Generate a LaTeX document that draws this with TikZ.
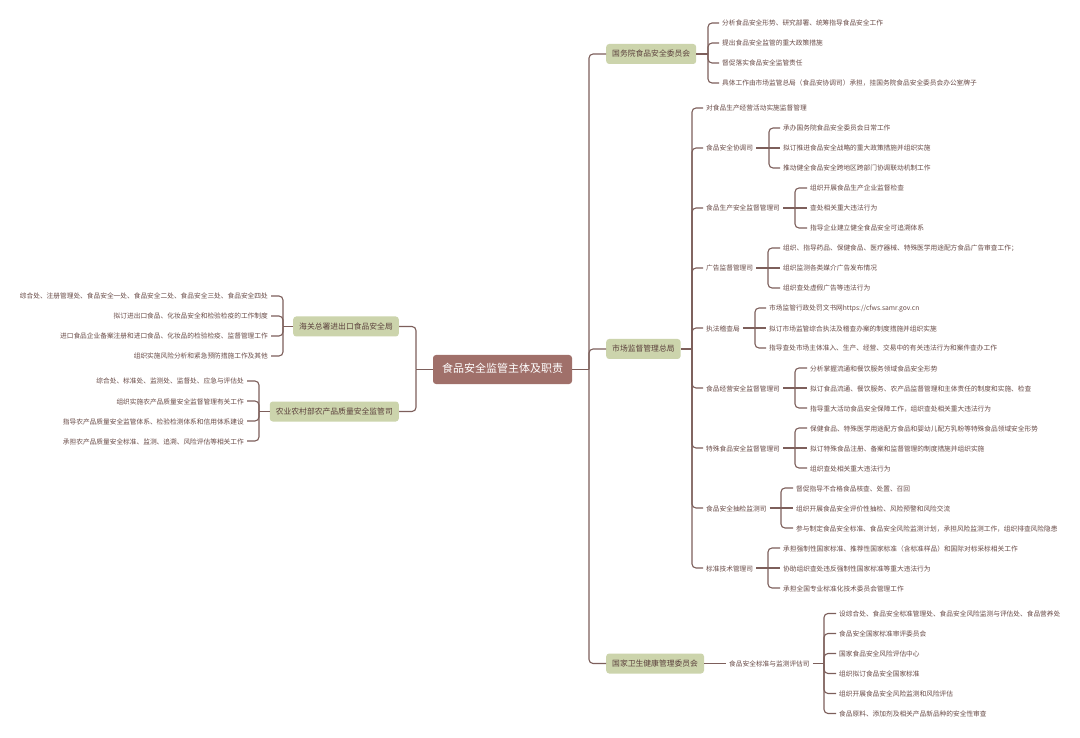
\documentclass[tikz,border=0pt]{standalone}
\usepackage{fontspec}
\setmainfont{Noto Sans CJK SC}
\definecolor{rootfill}{HTML}{A0706A}
\definecolor{boxfill}{HTML}{CCD4AC}
\definecolor{linkcol}{HTML}{7D5F5B}
\definecolor{boxtext}{HTML}{5B403C}
\definecolor{leaftext}{HTML}{684A46}
\tikzset{
	rootbox/.style={fill=rootfill, text=white, rounded corners=3pt, inner xsep=9pt, minimum height=29pt, text height=0.8em, text depth=0.2em, font=\fontsize{11}{13}\selectfont},
	mainbox/.style={fill=boxfill, text=boxtext, rounded corners=3pt, inner xsep=6pt, minimum height=20pt, text height=0.8em, text depth=0.2em, font=\fontsize{7.8}{9}\selectfont},
	leaf/.style={anchor=west, text=leaftext, inner xsep=3pt, inner ysep=1pt, text height=0.8em, text depth=0.2em, font=\fontsize{6.7}{8}\selectfont},
	leafl/.style={leaf, anchor=east},
	link/.style={draw=linkcol, line width=1.1pt, rounded corners=4pt},
}

\begin{document}
\begin{tikzpicture}[x=1pt, y=-1pt]
		%%%%% START %%%%%
		\useasboundingbox (0, 0) rectangle (1080, 738);
		\fill[white] (0, 0) rectangle (1080, 738);
		
		\node[rootbox] (root) at (502.5, 369.5) {食品安全监管主体及职责};
		
		\node[mainbox, anchor=west] (gwy) at (606, 54) {国务院食品安全委员会};
		\node[mainbox, anchor=west] (scj) at (606, 349) {市场监督管理总局};
		\node[mainbox, anchor=west] (wjw) at (606, 663.5) {国家卫生健康管理委员会};
		\node[mainbox, anchor=east] (hg) at (399, 326.5) {海关总署进出口食品安全局};
		\node[mainbox, anchor=east] (ny) at (399, 411.5) {农业农村部农产品质量安全监管司};
		
		\coordinate (rootR) at (589, 369.5);
		\coordinate (rootL) at (416, 369.5);
		\draw[link] (root.east) -- (rootR);
		\draw[link] (rootR) |- (gwy.west);
		\draw[link] (rootR) |- (scj.west);
		\draw[link] (rootR) |- (wjw.west);
		\draw[link] (root.west) -- (rootL);
		\draw[link] (rootL) |- (hg.east);
		\draw[link] (rootL) |- (ny.east);
		
		% guowuyuan
		\node[leaf] (gwy1) at (719, 23) {分析食品安全形势、研究部署、统筹指导食品安全工作};
		\node[leaf] (gwy2) at (719, 43) {提出食品安全监管的重大政策措施};
		\node[leaf] (gwy3) at (719, 63) {督促落实食品安全监管责任};
		\node[leaf] (gwy4) at (719, 83) {具体工作由市场监管总局（食品安协调司）承担，挂国务院食品安全委员会办公室牌子};
		\coordinate (gwyS) at (708, 54);
		\draw[link] (gwy.east) -- (gwyS);
		\draw[link] (gwyS) |- (gwy1.west);
		\draw[link] (gwyS) |- (gwy2.west);
		\draw[link] (gwyS) |- (gwy3.west);
		\draw[link] (gwyS) |- (gwy4.west);
		
		% shichang jianguan
		\node[leaf] (scj1) at (703, 108) {对食品生产经营活动实施监督管理};
		\node[leaf] (xt) at (703, 148) {食品安全协调司};
		\node[leaf] (sc) at (703, 208) {食品生产安全监督管理司};
		\node[leaf] (gg) at (703, 268) {广告监督管理司};
		\node[leaf] (zf) at (703, 328) {执法稽查局};
		\node[leaf] (jy) at (703, 388) {食品经营安全监督管理司};
		\node[leaf] (ts) at (703, 448) {特殊食品安全监督管理司};
		\node[leaf] (cj) at (703, 508) {食品安全抽检监测司};
		\node[leaf] (bz) at (703, 568) {标准技术管理司};
		\coordinate (scjS) at (692, 349);
		\draw[link] (scj.east) -- (scjS);
		\draw[link] (scjS) |- (scj1.west);
		\draw[link] (scjS) |- (xt.west);
		\draw[link] (scjS) |- (sc.west);
		\draw[link] (scjS) |- (gg.west);
		\draw[link] (scjS) |- (zf.west);
		\draw[link] (scjS) |- (jy.west);
		\draw[link] (scjS) |- (ts.west);
		\draw[link] (scjS) |- (cj.west);
		\draw[link] (scjS) |- (bz.west);
		
		\node[leaf] (xt1) at (780, 128) {承办国务院食品安全委员会日常工作};
		\node[leaf] (xt2) at (780, 148) {拟订推进食品安全战略的重大政策措施并组织实施};
		\node[leaf] (xt3) at (780, 168) {推动健全食品安全跨地区跨部门协调联动机制工作};
		\coordinate (xtS) at (769, 148);
		\draw[link] (xt.east) -- (xt2.west);
		\draw[link] (xtS) |- (xt1.west);
		\draw[link] (xtS) |- (xt3.west);
		
		\node[leaf] (sc1) at (807, 188) {组织开展食品生产企业监督检查};
		\node[leaf] (sc2) at (807, 208) {查处相关重大违法行为};
		\node[leaf] (sc3) at (807, 228) {指导企业建立健全食品安全可追溯体系};
		\coordinate (scS) at (795, 208);
		\draw[link] (sc.east) -- (sc2.west);
		\draw[link] (scS) |- (sc1.west);
		\draw[link] (scS) |- (sc3.west);
		
		\node[leaf] (gg1) at (780, 248) {组织、指导药品、保健食品、医疗器械、特殊医学用途配方食品广告审查工作；};
		\node[leaf] (gg2) at (780, 268) {组织监测各类媒介广告发布情况};
		\node[leaf] (gg3) at (780, 288) {组织查处虚假广告等违法行为};
		\coordinate (ggS) at (768, 268);
		\draw[link] (gg.east) -- (gg2.west);
		\draw[link] (ggS) |- (gg1.west);
		\draw[link] (ggS) |- (gg3.west);
		
		\node[leaf] (zf1) at (766, 308) {市场监管行政处罚文书网https://cfws.samr.gov.cn};
		\node[leaf] (zf2) at (766, 328) {拟订市场监管综合执法及稽查办案的制度措施并组织实施};
		\node[leaf] (zf3) at (766, 348) {指导查处市场主体准入、生产、经营、交易中的有关违法行为和案件查办工作};
		\coordinate (zfS) at (755, 328);
		\draw[link] (zf.east) -- (zf2.west);
		\draw[link] (zfS) |- (zf1.west);
		\draw[link] (zfS) |- (zf3.west);
		
		\node[leaf] (jy1) at (807, 368) {分析掌握流通和餐饮服务领域食品安全形势};
		\node[leaf] (jy2) at (807, 388) {拟订食品流通、餐饮服务、农产品监督管理和主体责任的制度和实施、检查};
		\node[leaf] (jy3) at (807, 408) {指导重大活动食品安全保障工作，组织查处相关重大违法行为};
		\coordinate (jyS) at (795, 388);
		\draw[link] (jy.east) -- (jy2.west);
		\draw[link] (jyS) |- (jy1.west);
		\draw[link] (jyS) |- (jy3.west);
		
		\node[leaf] (ts1) at (807, 428) {保健食品、特殊医学用途配方食品和婴幼儿配方乳粉等特殊食品领域安全形势};
		\node[leaf] (ts2) at (807, 448) {拟订特殊食品注册、备案和监督管理的制度措施并组织实施};
		\node[leaf] (ts3) at (807, 468) {组织查处相关重大违法行为};
		\coordinate (tsS) at (795, 448);
		\draw[link] (ts.east) -- (ts2.west);
		\draw[link] (tsS) |- (ts1.west);
		\draw[link] (tsS) |- (ts3.west);
		
		\node[leaf] (cj1) at (793, 488) {督促指导不合格食品核查、处置、召回};
		\node[leaf] (cj2) at (793, 508) {组织开展食品安全评价性抽检、风险预警和风险交流};
		\node[leaf] (cj3) at (793, 528) {参与制定食品安全标准、食品安全风险监测计划，承担风险监测工作，组织排查风险隐患};
		\coordinate (cjS) at (781, 508);
		\draw[link] (cj.east) -- (cj2.west);
		\draw[link] (cjS) |- (cj1.west);
		\draw[link] (cjS) |- (cj3.west);
		
		\node[leaf] (bz1) at (780, 548) {承担强制性国家标准、推荐性国家标准（含标准样品）和国际对标采标相关工作};
		\node[leaf] (bz2) at (780, 568) {协助组织查处违反强制性国家标准等重大违法行为};
		\node[leaf] (bz3) at (780, 588) {承担全国专业标准化技术委员会管理工作};
		\coordinate (bzS) at (768, 568);
		\draw[link] (bz.east) -- (bz2.west);
		\draw[link] (bzS) |- (bz1.west);
		\draw[link] (bzS) |- (bz3.west);
		
		% weijianwei
		\node[leaf] (jc) at (726, 663.5) {食品安全标准与监测评估司};
		\draw[link] (wjw.east) -- (jc.west);
		\node[leaf] (jc1) at (836, 613.5) {设综合处、食品安全标准管理处、食品安全风险监测与评估处、食品营养处};
		\node[leaf] (jc2) at (836, 633.5) {食品安全国家标准审评委员会};
		\node[leaf] (jc3) at (836, 653.5) {国家食品安全风险评估中心};
		\node[leaf] (jc4) at (836, 673.5) {组织拟订食品安全国家标准};
		\node[leaf] (jc5) at (836, 693.5) {组织开展食品安全风险监测和风险评估};
		\node[leaf] (jc6) at (836, 713.5) {食品原料、添加剂及相关产品新品种的安全性审查};
		\coordinate (jcS) at (824, 663.5);
		\draw[link] (jc.east) -- (jcS);
		\draw[link] (jcS) |- (jc1.west);
		\draw[link] (jcS) |- (jc2.west);
		\draw[link] (jcS) |- (jc3.west);
		\draw[link] (jcS) |- (jc4.west);
		\draw[link] (jcS) |- (jc5.west);
		\draw[link] (jcS) |- (jc6.west);
		
		% haiguan
		\node[leafl] (hg1) at (271, 296) {综合处、注册管理处、食品安全一处、食品安全二处、食品安全三处、食品安全四处};
		\node[leafl] (hg2) at (271, 316) {拟订进出口食品、化妆品安全和检验检疫的工作制度};
		\node[leafl] (hg3) at (271, 336) {进口食品企业备案注册和进口食品、化妆品的检验检疫、监督管理工作};
		\node[leafl] (hg4) at (271, 356) {组织实施风险分析和紧急预防措施工作及其他};
		\coordinate (hgS) at (283, 326.5);
		\draw[link] (hg.west) -- (hgS);
		\draw[link] (hgS) |- (hg1.east);
		\draw[link] (hgS) |- (hg2.east);
		\draw[link] (hgS) |- (hg3.east);
		\draw[link] (hgS) |- (hg4.east);
		
		% nongye
		\node[leafl] (ny1) at (247, 381) {综合处、标准处、监测处、监督处、应急与评估处};
		\node[leafl] (ny2) at (247, 401) {组织实施农产品质量安全监督管理有关工作};
		\node[leafl] (ny3) at (247, 421) {指导农产品质量安全监管体系、检验检测体系和信用体系建设};
		\node[leafl] (ny4) at (247, 441) {承担农产品质量安全标准、监测、追溯、风险评估等相关工作};
		\coordinate (nyS) at (259, 411.5);
		\draw[link] (ny.west) -- (nyS);
		\draw[link] (nyS) |- (ny1.east);
		\draw[link] (nyS) |- (ny2.east);
		\draw[link] (nyS) |- (ny3.east);
		\draw[link] (nyS) |- (ny4.east);
		
		%%%%% END %%%%%
	\end{tikzpicture}
\end{document}
